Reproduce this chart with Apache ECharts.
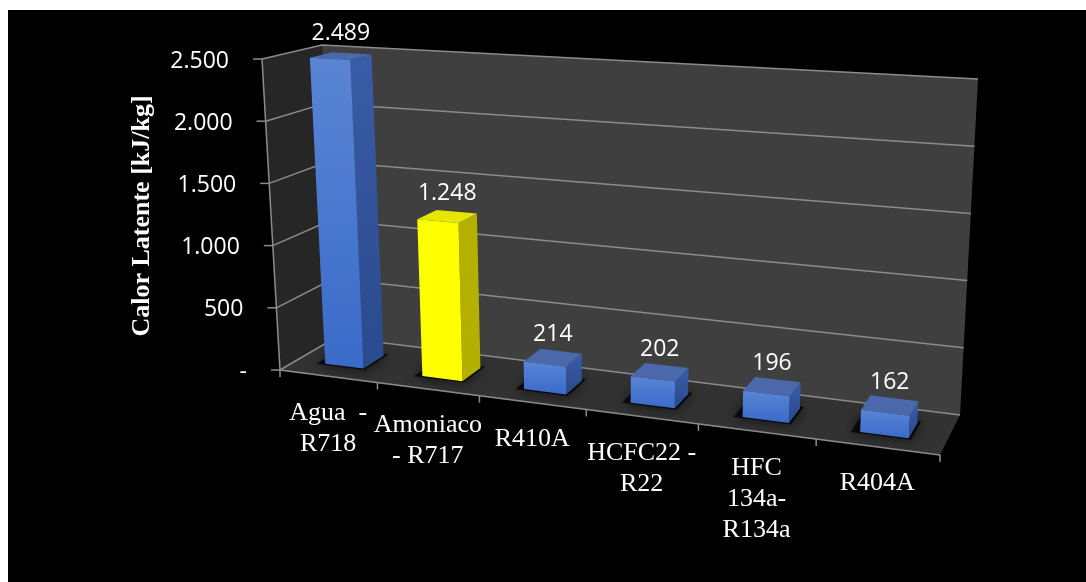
<!DOCTYPE html>
<html>
<head>
<meta charset="utf-8">
<script src="https://cdn.jsdelivr.net/npm/echarts@6/dist/echarts.min.js"></script>
<style>
  html, body { margin: 0; padding: 0; background: #fff; }
  #chart { width: 1086px; height: 582px; }
</style>
</head>
<body>
<div id="chart"></div>
<script>
// Refrigerants and their latent heat of vaporisation
const categories = ['Agua  -\nR718', 'Amoniaco\n- R717', 'R410A', 'HCFC22 -\nR22', 'HFC\n134a-\nR134a', 'R404A'];
const latentHeat = [2489, 1248, 214, 202, 196, 162];
const highlighted = [false, true, false, false, false, false];
const yTicks = [0, 500, 1000, 1500, 2000, 2500];
const yTickLabels = ['-', '500', '1.000', '1.500', '2.000', '2.500'];
const axisTitle = 'Calor Latente [kJ/kg]';

// Screen corners of the 3D plot box (f = front, b = back, b/t = bottom/top, l/r = left/right)
const BOX = {
  fbl: [280, 370], fbr: [940, 455], bbl: [336.5, 337], bbr: [960, 415],
  ftl: [262, 59],  ftr: [958, 98],  btl: [322, 45],    btr: [978, 79]
};
const PERSP = 0.866;          // foreshortening along the category direction
const BAR_HALF = 0.2;         // half bar width, as a fraction of the category band
const W_FRONT = 0.3, W_BACK = 0.68;   // bar depth inside the box
const GRID_COLOR = '#8c8c8c';
const SERIF = '"Liberation Serif", "Times New Roman", serif';
const SANS = '"Open Sans", "Noto Sans", sans-serif';

function lerp(a, b, t) { return [a[0] + (b[0] - a[0]) * t, a[1] + (b[1] - a[1]) * t]; }

// Map normalised box coordinates (u across, v up, w into depth) to screen pixels
function project(u, v, w) {
  const s = PERSP * u / (1 + (PERSP - 1) * u);
  const bot = lerp(lerp(BOX.fbl, BOX.fbr, s), lerp(BOX.bbl, BOX.bbr, s), w);
  const top = lerp(lerp(BOX.ftl, BOX.ftr, s), lerp(BOX.btl, BOX.btr, s), w);
  return lerp(bot, top, v);
}

function fmtNum(v) {
  return String(Math.round(v)).replace(/\B(?=(\d{3})+(?!\d))/g, '.');
}

function normU(cs, x) { return (x - cs.x) / cs.width; }
function normV(cs, y) { return (cs.y + cs.height - y) / cs.height; }

// Walls and floor
function renderFrame(params, api) {
  const P = project;
  return {
    type: 'group',
    children: [
      { type: 'polygon', silent: true,
        shape: { points: [P(0,0,0), P(0,0,1), P(0,1,1), P(0,1,0)] },
        style: { fill: '#262626' } },
      { type: 'polygon', silent: true,
        shape: { points: [P(0,0,1), P(1,0,1), P(1,1,1), P(0,1,1)] },
        style: { fill: '#3f3f3f' } },
      { type: 'polygon', silent: true,
        shape: { points: [P(0,0,0), P(1,0,0), P(1,0,1), P(0,0,1)] },
        style: { fill: '#323232' } },
      { type: 'polyline', silent: true,
        shape: { points: [P(0,1,0), P(0,0,0), P(1,0,0)] },
        style: { stroke: GRID_COLOR, lineWidth: 1.5, fill: null } }
    ]
  };
}

// Value gridlines, ticks and tick labels
function renderGrid(params, api) {
  const cs = params.coordSys;
  const t = api.value(1);
  const v = normV(cs, api.coord([0, t])[1]);
  const a = project(0, v, 0);
  return {
    type: 'group',
    children: [
      { type: 'polyline', silent: true,
        shape: { points: [a, project(0, v, 1), project(1, v, 1)] },
        style: { stroke: GRID_COLOR, lineWidth: 1.5, fill: null } },
      { type: 'line', silent: true,
        shape: { x1: a[0] - 9, y1: a[1], x2: a[0], y2: a[1] },
        style: { stroke: GRID_COLOR, lineWidth: 1.5 } },
      { type: 'text', silent: true,
        style: { x: a[0] - 33, y: a[1] + 2, text: yTickLabels[params.dataIndex],
                 fill: '#fff', font: '23px ' + SANS, align: 'right', verticalAlign: 'middle' } }
    ]
  };
}

// Category ticks and labels along the front edge of the floor
function renderCategory(params, api) {
  const cs = params.coordSys;
  const i = api.value(0);
  const c = api.coord([i, 0]);
  const band = api.size([1, 0])[0];
  const uc = normU(cs, c[0]);
  const ul = normU(cs, c[0] - band / 2);
  const ur = normU(cs, c[0] + band / 2);
  const mid = project(uc, 0, 0);
  const children = [];
  const tickAt = (u) => {
    const p = project(u, 0, 0);
    children.push({ type: 'line', silent: true,
      shape: { x1: p[0], y1: p[1], x2: p[0], y2: p[1] + 7 },
      style: { stroke: GRID_COLOR, lineWidth: 1.5 } });
  };
  tickAt(ul);
  if (params.dataIndex === categories.length - 1) tickAt(ur);
  children.push({ type: 'text', silent: true,
    style: { x: mid[0], y: mid[1] + 21, text: categories[params.dataIndex],
             fill: '#fff', font: '26px ' + SERIF, lineHeight: 31,
             align: 'center', verticalAlign: 'top' } });
  return { type: 'group', children };
}

// 3D bars with shadow and value label
function renderBar(params, api) {
  const cs = params.coordSys;
  const i = api.value(0), val = api.value(1);
  const top = api.coord([i, val]);
  const band = api.size([1, 0])[0];
  const u0 = normU(cs, top[0] - band * BAR_HALF);
  const u1 = normU(cs, top[0] + band * BAR_HALF);
  const vt = normV(cs, top[1]);
  const P = project;
  const yellow = highlighted[params.dataIndex];
  const G = echarts.graphic.LinearGradient;
  const frontFill = yellow ? '#ffff00'
    : new G(0, 0, 0, 1, [{ offset: 0, color: '#5a85d5' }, { offset: 1, color: '#3a6bc9' }]);
  const sideFill = yellow ? '#b3b000'
    : new G(0, 0, 0, 1, [{ offset: 0, color: '#3a5ca6' }, { offset: 1, color: '#2a4a8e' }]);
  const topFill = yellow ? '#e6e600' : '#4a68aa';
  const labelPt = P((u0 + u1) / 2, vt, (W_FRONT + W_BACK) / 2);
  return {
    type: 'group',
    children: [
      { type: 'polygon', silent: true,
        shape: { points: [P(u0 - 0.012, 0, W_FRONT - 0.03), P(u1 + 0.004, 0, W_FRONT - 0.03),
                          P(u1 + 0.004, 0, W_BACK + 0.05), P(u0 - 0.012, 0, W_BACK + 0.05)] },
        style: { fill: 'rgba(0,0,0,0.75)', shadowBlur: 14, shadowColor: 'rgba(0,0,0,0.9)' } },
      { type: 'polygon', silent: true,
        shape: { points: [P(u1,0,W_FRONT), P(u1,0,W_BACK), P(u1,vt,W_BACK), P(u1,vt,W_FRONT)] },
        style: { fill: sideFill } },
      { type: 'polygon', silent: true,
        shape: { points: [P(u0,vt,W_FRONT), P(u1,vt,W_FRONT), P(u1,vt,W_BACK), P(u0,vt,W_BACK)] },
        style: { fill: topFill } },
      { type: 'polygon', silent: true,
        shape: { points: [P(u0,0,W_FRONT), P(u1,0,W_FRONT), P(u1,vt,W_FRONT), P(u0,vt,W_FRONT)] },
        style: { fill: frontFill } },
      { type: 'text', silent: true,
        style: { x: labelPt[0], y: labelPt[1] - 23, text: fmtNum(val),
                 fill: '#fff', font: '23px ' + SANS, align: 'center', verticalAlign: 'middle' } }
    ]
  };
}

const chart = echarts.init(document.getElementById('chart'), null, { renderer: 'canvas' });
chart.setOption({
  backgroundColor: '#fff',
  animation: false,
  graphic: [
    { type: 'rect', z: -10, silent: true, shape: { x: 8, y: 10, width: 1078, height: 572 }, style: { fill: '#000' } },
    { type: 'text', z: 10, silent: true, x: 142, y: 216, rotation: Math.PI / 2,
      style: { text: axisTitle, fill: '#fff', font: 'bold 26px ' + SERIF, align: 'center', verticalAlign: 'middle' } }
  ],
  grid: { left: 100, right: 100, top: 100, bottom: 100 },
  xAxis: { type: 'category', data: categories, show: false },
  yAxis: { type: 'value', min: 0, max: 2500, interval: 500, show: false },
  series: [
    { type: 'custom', z: 1, renderItem: renderFrame, data: [[0, 0]], silent: true },
    { type: 'custom', z: 2, renderItem: renderGrid, data: yTicks.map(t => [0, t]), silent: true },
    { type: 'custom', z: 3, renderItem: renderCategory, data: categories.map((c, i) => [i, 0]), silent: true },
    { type: 'custom', z: 4, renderItem: renderBar, data: latentHeat.map((v, i) => [i, v]), silent: true }
  ]
});
</script>
</body>
</html>
